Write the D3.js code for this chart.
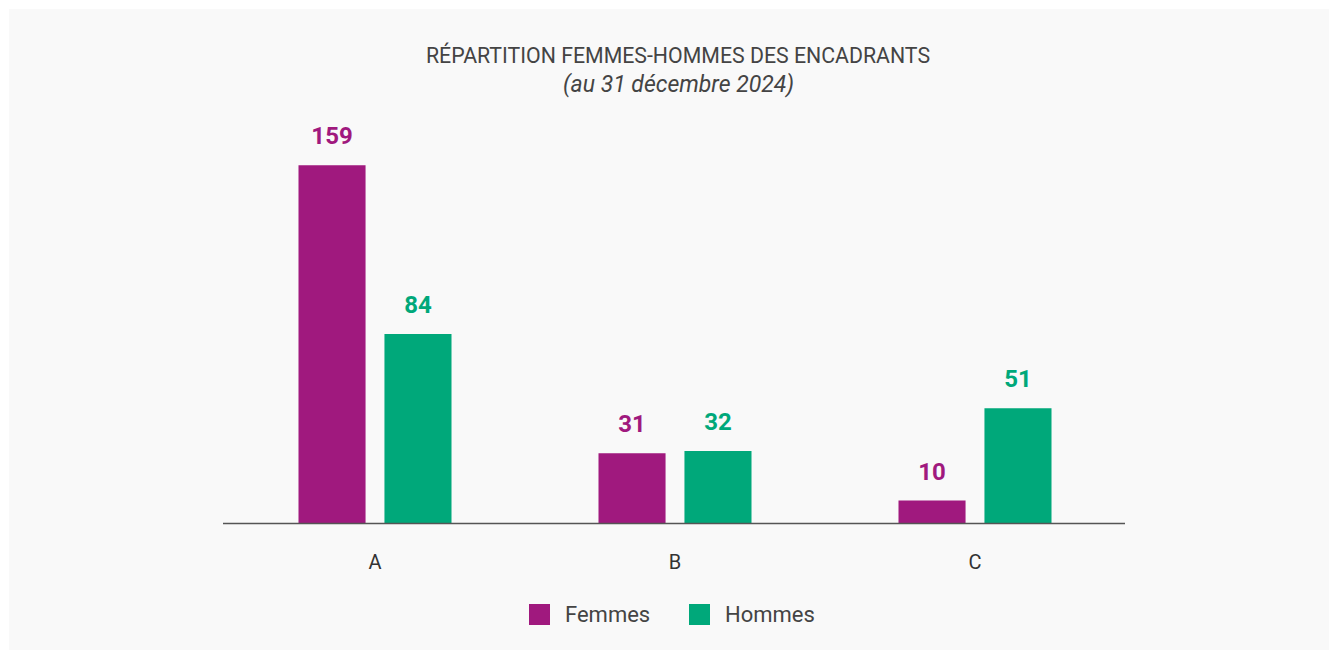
<!DOCTYPE html>
<html><head><meta charset="utf-8">
<script src="https://cdn.jsdelivr.net/npm/d3@7"></script>
<style>
html,body{margin:0;padding:0;background:#fff;}
svg{display:block;font-family:Roboto, "Noto Sans", sans-serif;}
</style></head>
<body>
<svg id="chart" width="1338" height="660"></svg>
<script>
const categories = ["A", "B", "C"];
const seriesNames = ["Femmes", "Hommes"];
const femmes = [159, 31, 10];
const hommes = [84, 32, 51];
const colors = ["#a0197e", "#00a87a"];
const title = "RÉPARTITION FEMMES-HOMMES DES ENCADRANTS";
const subtitle = "(au 31 décembre 2024)";

const data = categories.map((c, i) => ({cat: c, values: [femmes[i], hommes[i]]}));

const svg = d3.select("#chart");
svg.append("rect").attr("x", 9).attr("y", 9).attr("width", 1320).attr("height", 641).attr("fill", "#f9f9f9");

const baseY = 523;
const x0 = d3.scaleBand().domain(categories).range([225, 1125]).padding(0);
const x1 = d3.scaleBand().domain(seriesNames).range([0, 153]).paddingInner(0.22).paddingOuter(0);
const y = d3.scaleLinear().domain([0, 160]).range([baseY, baseY - 360]);
const color = d3.scaleOrdinal().domain(seriesNames).range(colors);

svg.append("text").attr("x", 678).attr("y", 62.5).attr("text-anchor", "middle")
  .attr("font-size", 21.3).attr("fill", "#444").text(title);
svg.append("text").attr("x", 678.5).attr("y", 92).attr("text-anchor", "middle")
  .attr("font-size", 23).attr("font-style", "italic").attr("fill", "#444").text(subtitle);

const groups = svg.selectAll("g.grp").data(data).enter().append("g")
  .attr("transform", d => `translate(${x0(d.cat) + x0.bandwidth()/2 - 76.5},0)`);

groups.selectAll("rect").data(d => d.values.map((v, i) => ({name: seriesNames[i], v})))
  .enter().append("rect")
  .attr("x", d => x1(d.name)).attr("width", x1.bandwidth())
  .attr("y", d => y(d.v)).attr("height", d => baseY - y(d.v))
  .attr("fill", d => color(d.name));

groups.selectAll("text").data(d => d.values.map((v, i) => ({name: seriesNames[i], v})))
  .enter().append("text")
  .attr("x", d => x1(d.name) + x1.bandwidth()/2).attr("y", d => y(d.v) - 21)
  .attr("text-anchor", "middle").attr("font-size", 24).attr("font-weight", "bold")
  .attr("fill", d => color(d.name)).text(d => d.v);

const axis = svg.append("g").attr("transform", `translate(0,${baseY})`)
  .call(d3.axisBottom(x0).tickSize(0).tickPadding(32));
axis.select(".domain").attr("stroke", "#555").attr("stroke-width", 1.5).attr("d", "M223,0.5H1125");
axis.selectAll("text").attr("font-size", 20).attr("fill", "#333").attr("font-family", "Roboto");

const legend = svg.append("g");
const legX = [529, 689];
seriesNames.forEach((n, i) => {
  legend.append("rect").attr("x", legX[i]).attr("y", 604).attr("width", 21).attr("height", 21).attr("fill", colors[i]);
  legend.append("text").attr("x", legX[i] + 36).attr("y", 621.5).attr("font-size", 22).attr("fill", "#444").text(n);
});
</script>
</body></html>
